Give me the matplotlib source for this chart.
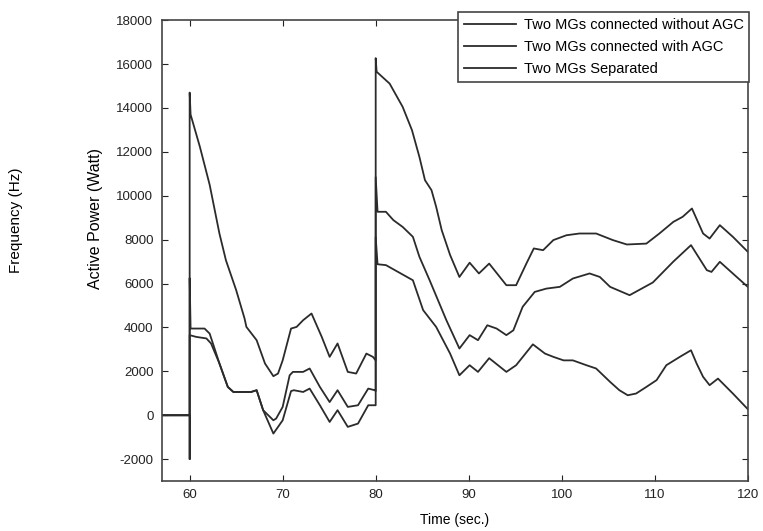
import matplotlib
matplotlib.use("Agg")
import matplotlib.pyplot as plt

plt.rcParams['font.family'] = ['Liberation Sans', 'DejaVu Sans']
plt.rcParams['axes.unicode_minus'] = False

# time (s) / active power (W)
t_no_agc = [57, 60, 60, 60, 60.1, 61.1, 62.15, 63.2, 63.9, 65.0, 65.9, 66.1, 67.2, 68.1,
            69.0, 69.5, 70.0, 70.9, 71.5, 72.2, 73.1, 74.2, 75.05, 75.9, 77.0, 77.9,
            79.0, 79.7, 80.0, 80.0, 80.1, 81.5, 82.9, 83.9, 84.7, 85.3, 86.0, 86.5,
            87.1, 88.0, 89.0, 90.1, 91.1, 92.2, 94.05, 95.1, 96.2, 97.0, 98.0, 99.1,
            100.5, 101.9, 103.7, 105.5, 107.0, 109.1, 110.5, 112.0, 113.0, 114.0,
            115.2, 115.9, 117.0, 118.4, 120]
p_no_agc = [0, 0, -2000, 14700, 13700, 12230, 10500, 8280, 7060, 5700, 4410, 4025, 3420, 2356,
            1780, 1900, 2500, 3950, 4025, 4330, 4635, 3570, 2660, 3270, 1975, 1900,
            2810, 2660, 2500, 16270, 15650, 15110, 14050, 12990, 11770, 10710, 10255, 9500,
            8430, 7300, 6300, 6950, 6460, 6910, 5925, 5925, 6910, 7600, 7520, 7980,
            8200, 8280, 8280, 7980, 7780, 7820, 8280, 8810, 9040, 9420,
            8280, 8050, 8660, 8130, 7450]

t_agc = [57, 60, 60, 60.1, 61.6, 62.15, 62.5, 63.2, 64.1, 64.7, 66.6, 67.2, 67.9, 69.0,
         69.3, 70.0, 70.75, 71.1, 72.2, 72.9, 74.0, 75.05, 75.9, 77.0, 78.1, 79.2, 79.9,
         80, 80, 80.2, 81.1, 81.9, 82.9, 84.0, 84.7, 85.8, 87.6, 89.0, 90.1, 91.0, 92.0,
         93.0, 94.05, 94.8, 95.8, 97.1, 98.35, 99.8, 101.2, 103.0, 104.1, 105.2, 107.3,
         109.8, 112.0, 113.9, 115.6, 116.1, 117.0, 120]
p_agc = [0, 0, 6250, 3950, 3950, 3720, 3270, 2360, 1290, 1060, 1060, 1140, 230, -230,
         -150, 380, 1820, 1975, 1975, 2130, 1290, 600, 1140, 380, 455, 1215, 1140,
         1100, 10850, 9270, 9270, 8890, 8580, 8130, 7220, 6150, 4330, 3040, 3650, 3420, 4100,
         3950, 3650, 3870, 4940, 5620, 5770, 5850, 6230, 6460, 6300, 5850, 5470,
         6050, 7000, 7750, 6610, 6530, 6990, 5850]

t_sep = [57, 60, 60, 60.7, 61.8, 62.3, 63.2, 64.1, 64.7, 66.6, 67.2, 67.9, 69.0, 70.0,
         70.9, 71.2, 72.2, 72.9, 74.0, 75.05, 75.9, 77.0, 78.1, 79.2, 80, 80, 80.2,
         81.1, 84.0, 85.1, 86.5, 88.0, 89.0, 90.1, 91.0, 92.2, 94.05, 95.1, 96.9, 98.2,
         99.1, 100.2, 101.2, 102.65, 103.7, 105.2, 106.2, 107.1, 108.0, 109.1, 110.2,
         111.25, 112.7, 113.9, 114.5, 115.2, 115.9, 116.8, 118.4, 120]
p_sep = [0, 0, 3650, 3570, 3500, 3270, 2360, 1290, 1060, 1060, 1140, 230, -835, -230,
         1100, 1140, 1060, 1215, 455, -305, 230, -530, -380, 455, 455, 8110, 6880,
         6840, 6150, 4790, 4025, 2810, 1820, 2280, 1975, 2600, 1975, 2280, 3230, 2810,
         2660, 2500, 2500, 2280, 2130, 1520, 1140, 910, 990, 1290, 1600,
         2280, 2660, 2960, 2360, 1750, 1370, 1670, 990, 280]

labels = ["Two MGs connected without AGC", "Two MGs connected with AGC", "Two MGs Separated"]

fig = plt.figure(figsize=(7.63, 5.31), dpi=100)
ax = fig.add_axes([0.212, 0.094, 0.768, 0.868])

ax.plot(t_no_agc, p_no_agc, color='#2b2b2b', lw=1.3, label=labels[0])
ax.plot(t_agc, p_agc, color='#2b2b2b', lw=1.3, label=labels[1])
ax.plot(t_sep, p_sep, color='#2b2b2b', lw=1.3, label=labels[2])

ax.set_xlim(57, 120)
ax.set_ylim(-3000, 18000)
ax.set_xticks(range(60, 121, 10))
ax.set_yticks(range(-2000, 18001, 2000))
ax.tick_params(direction='in', top=True, right=True, length=4, labelsize=9.5,
               colors='#222222', pad=6)
for s in ax.spines.values():
    s.set_color('#444444')
    s.set_linewidth(1.2)

ax.set_xlabel("Time (sec.)", fontsize=10, labelpad=8)
ax.set_ylabel("Active Power (Watt)", fontsize=11.5, labelpad=8)
ax.yaxis.set_label_coords(-0.1, 0.57)
fig.text(0.021, 0.585, "Frequency (Hz)", rotation=90, fontsize=11, va='center', ha='center')

leg = ax.legend(loc='upper right', bbox_to_anchor=(0.982, 0.977), bbox_transform=fig.transFigure,
                fontsize=10.5, fancybox=False, framealpha=1, edgecolor='#444444',
                handlelength=3.6, handletextpad=0.5, borderaxespad=0, labelspacing=0.55)
leg.get_frame().set_linewidth(1.2)

fig.savefig("out.png", dpi=100)
